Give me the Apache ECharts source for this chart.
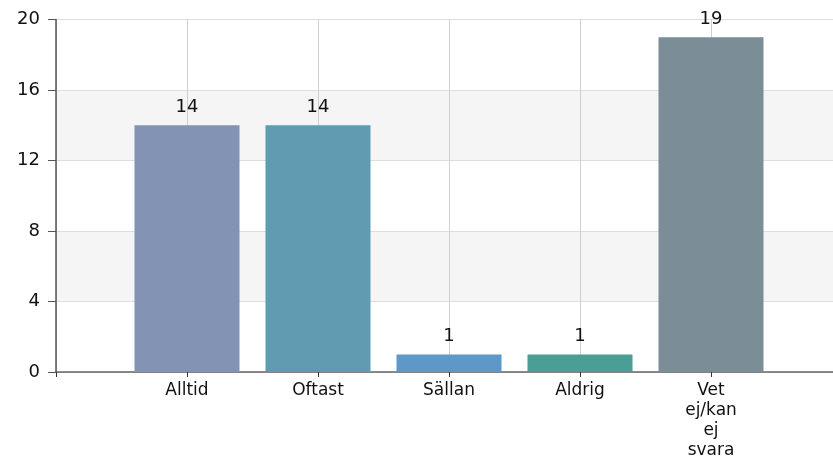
<!DOCTYPE html>
<html><head><meta charset="utf-8">
<script src="https://cdn.jsdelivr.net/npm/echarts@6/dist/echarts.min.js"></script>
<style>html,body{margin:0;padding:0;background:#fff}#c{width:833px;height:466px}</style>
</head><body><div id="c"></div>
<script>
const categories = ['', 'Alltid', 'Oftast', 'Sällan', 'Aldrig', 'Vet\nej/kan\nej\nsvara', ''];
const values = [null, 14, 14, 1, 1, 19, null];
const barColors = [null, '#8393b3', '#5f9cb2', '#5e98c9', '#4b9e96', '#7b8d97', null];
const yTicks = [0, 4, 8, 12, 16, 20];

const FONT = 'DejaVu Sans, Verdana, sans-serif';
const chart = echarts.init(document.getElementById('c'));
chart.setOption({
  animation: false,
  grid: { left: 56, top: 19.5, width: 786, height: 352.5, outerBoundsMode: 'none', containLabel: false },
  xAxis: {
    type: 'category', data: categories, boundaryGap: false,
    axisLine: { lineStyle: { color: '#666', width: 1.5 } },
    axisTick: { length: 5, lineStyle: { color: '#333' } },
    axisLabel: { color: '#111', fontFamily: FONT, fontSize: 17, lineHeight: 20, margin: 9 },
    splitLine: { show: true, lineStyle: { color: '#cfcfcf' } }
  },
  yAxis: {
    type: 'value', min: yTicks[0], max: yTicks[yTicks.length - 1], interval: 4,
    axisLine: { show: true, lineStyle: { color: '#555', width: 1.5 } },
    axisTick: { show: true, length: 8, lineStyle: { color: '#555' } },
    axisLabel: { color: '#111', fontFamily: FONT, fontSize: 18, margin: 16 },
    splitLine: { lineStyle: { color: '#dedede' } },
    splitArea: { show: true, areaStyle: { color: ['#ffffff', '#f5f5f5'] } }
  },
  series: [{
    type: 'bar', barWidth: 105,
    data: values.map((v, i) => ({ value: v, itemStyle: { color: barColors[i] } })),
    label: { show: true, position: 'top', distance: 9, color: '#111', fontFamily: FONT, fontSize: 18 }
  }]
});
</script></body></html>
